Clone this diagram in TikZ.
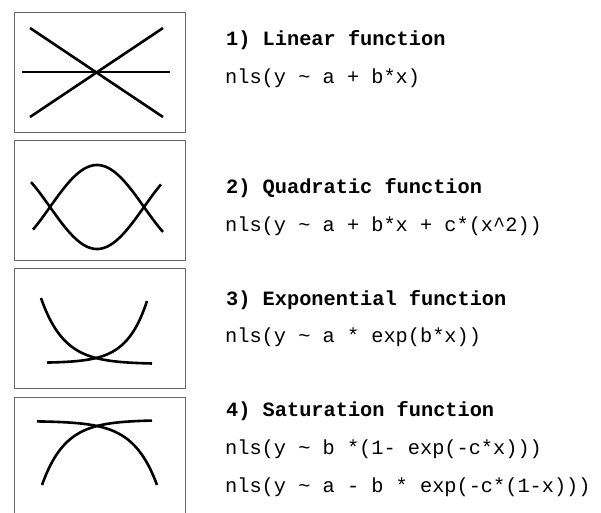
\documentclass[tikz,border=0pt]{standalone}
\usepackage{fontspec}
\newfontfamily\cour{Liberation Mono}
\begin{document}
\begin{tikzpicture}[x=1pt,y=-1pt,
  panel/.style={draw=black!60,line width=1.2pt,rectangle,inner sep=0pt,anchor=north west},
  curve/.style={line width=2.6pt,black},
  head/.style={anchor=base west,inner sep=0pt,font=\cour\bfseries\fontsize{20.3}{24}\selectfont},
  code/.style={anchor=base west,inner sep=0pt,font=\cour\fontsize{20.3}{24}\selectfont}]
\useasboundingbox (0,0) rectangle (601,512);
\clip (0,0) rectangle (601,512);
% panels
\node[panel,minimum width=171pt,minimum height=120pt] (p1) at (14,12) {};
\node[panel,minimum width=171pt,minimum height=120pt] (p2) at (14,140) {};
\node[panel,minimum width=171pt,minimum height=120pt] (p3) at (14,268) {};
\node[panel,minimum width=171pt,minimum height=130pt] (p4) at (14,397) {};
% 1) linear
\draw[curve] (22,72) -- (170,72);
\draw[curve] (30,28) -- (163,117);
\draw[curve] (30,117) -- (163,28);
% 2) quadratic
\draw[curve] plot[domain=33:163,samples=80,smooth] (\x,{207-42*sin((\x-50)/94*180)});
\draw[curve] plot[domain=31:161,samples=80,smooth] (\x,{207+42*sin((\x-50)/94*180)});
% 3) exponential
\draw[curve] plot[domain=41:152,samples=80,smooth] (\x,{364-66*exp(-0.0436*(\x-41))});
\draw[curve] plot[domain=47:147,samples=80,smooth] (\x,{363-62*exp(-0.0494*(147-\x))});
% 4) saturation
\draw[curve] plot[domain=42:152,samples=80,smooth] (\x,{420+65*exp(-0.0433*(\x-42))});
\draw[curve] plot[domain=37:157,samples=80,smooth] (\x,{421+64*exp(-0.0425*(157-\x))});
% texts
\node[head] (h1) at (226,45) {1) Linear function};
\node[code] (c1) at (225,83) {nls(y \char`\~{} a + b*x)};
\node[head] (h2) at (226,193) {2) Quadratic function};
\node[code] (c2) at (225,231) {nls(y \char`\~{} a + b*x + c*(x\char`\^{}2))};
\node[head] (h3) at (226,305) {3) Exponential function};
\node[code] (c3) at (225,342) {nls(y \char`\~{} a * exp(b*x))};
\node[head] (h4) at (226,416) {4) Saturation function};
\node[code] (c4a) at (225,454) {nls(y \char`\~{} b *(1- exp(-c*x)))};
\node[code] (c4b) at (225,492) {nls(y \char`\~{} a - b * exp(-c*(1-x)))};
\end{tikzpicture}
\end{document}
